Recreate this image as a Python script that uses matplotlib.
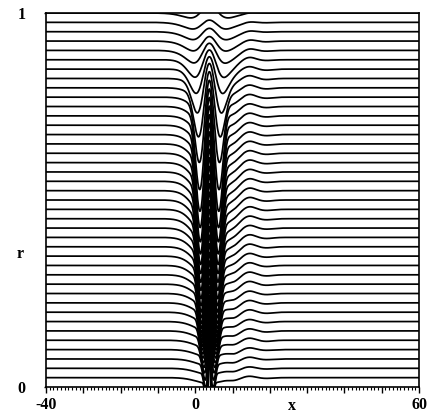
import numpy as np
import matplotlib
matplotlib.use("Agg")
import matplotlib.pyplot as plt

# ---- data ----
r_levels = [1.000, 0.975, 0.950, 0.925, 0.900, 0.875, 0.850, 0.825, 0.800, 0.775,
            0.750, 0.725, 0.700, 0.675, 0.650, 0.625, 0.600, 0.575, 0.550, 0.525,
            0.500, 0.475, 0.450, 0.425, 0.400, 0.375, 0.350, 0.325, 0.300, 0.275,
            0.250, 0.225, 0.200, 0.175, 0.150, 0.125, 0.100, 0.075, 0.050, 0.025]
# crest height above each level
tip_height = [0.020, 0.006, 0.009, 0.012, 0.019, 0.026, 0.033, 0.040, 0.043, 0.045,
              0.047, 0.049, 0.051, 0.053, 0.055, 0.057, 0.059, 0.061, 0.063, 0.065,
              0.067, 0.069, 0.071, 0.073, 0.075, 0.077, 0.079, 0.081, 0.083, 0.085,
              0.087, 0.089, 0.091, 0.093, 0.095, 0.097, 0.099, 0.101, 0.103, 0.105]
crest_width = [3.5, 3.5, 3.45, 3.4, 3.2, 2.95, 2.7, 2.4, 2.1, 1.9,
               1.75, 1.65, 1.6, 1.56, 1.53, 1.5, 1.48, 1.46, 1.44, 1.42,
               1.4, 1.38, 1.36, 1.33, 1.3, 1.27, 1.23, 1.19, 1.14, 1.08,
               1.02, 0.95, 0.88, 0.8, 0.72, 0.64, 0.55, 0.46, 0.38, 0.3]
# broad trough (long shallow approach)
broad_depth = [0.004, 0.004, 0.006, 0.009, 0.013, 0.019, 0.027, 0.037, 0.047, 0.056,
               0.062, 0.068, 0.073, 0.077, 0.080, 0.083, 0.085, 0.087, 0.088, 0.088,
               0.087, 0.085, 0.082, 0.078, 0.073, 0.068, 0.062, 0.056, 0.050, 0.044,
               0.039, 0.035, 0.031, 0.028, 0.025, 0.022, 0.020, 0.018, 0.016, 0.015]
broad_width = [5.0, 5.0, 5.0, 5.0, 5.0, 5.0, 5.0, 5.0, 5.0, 5.0,
               5.0, 5.0, 5.0, 5.0, 5.0, 5.0, 5.0, 5.0, 5.0, 5.0,
               5.0, 5.0, 5.0, 5.0, 5.0, 5.0, 5.0, 5.0, 5.0, 5.0,
               5.0, 5.0, 5.0, 5.0, 5.0, 5.0, 5.0, 5.0, 5.0, 5.0]
# deep, steep-walled core of the trough
core_depth = [0.030, 0.035, 0.042, 0.052, 0.065, 0.080, 0.100, 0.125, 0.160, 0.200,
              0.240, 0.265, 0.280, 0.290, 0.295, 0.295, 0.292, 0.288, 0.283, 0.277,
              0.270, 0.262, 0.253, 0.243, 0.232, 0.220, 0.205, 0.190, 0.172, 0.155,
              0.138, 0.122, 0.108, 0.095, 0.085, 0.077, 0.072, 0.068, 0.064, 0.060]
core_width = [6.5, 6.5, 6.3, 6.1, 5.8, 5.5, 5.1, 4.7, 4.3, 4.0,
              3.9, 3.85, 3.8, 3.75, 3.7, 3.65, 3.6, 3.55, 3.5, 3.5,
              3.45, 3.4, 3.35, 3.3, 3.25, 3.2, 3.15, 3.1, 3.05, 3.0,
              3.0, 2.95, 2.85, 2.7, 2.5, 2.3, 2.0, 1.8, 1.55, 1.3]
core_power = [2.0, 2.0, 2.0, 2.0, 2.0, 2.4, 2.8, 3.3, 3.8, 4.3,
              4.8, 5.0, 5.0, 5.0, 5.0, 5.0, 5.0, 5.0, 5.0, 5.0,
              5.0, 5.0, 5.0, 5.0, 5.0, 5.0, 5.0, 5.0, 5.0, 5.0,
              5.0, 5.0, 5.0, 5.0, 4.5, 4.0, 4.0, 4.0, 4.0, 4.0]
# trailing ripples on the right
tail_dip = [0.000, 0.000, 0.001, 0.002, 0.003, 0.004, 0.005, 0.006, 0.007, 0.008,
            0.009, 0.010, 0.010, 0.010, 0.010, 0.010, 0.010, 0.010, 0.010, 0.010,
            0.010, 0.010, 0.010, 0.010, 0.010, 0.010, 0.010, 0.010, 0.010, 0.010,
            0.010, 0.010, 0.010, 0.009, 0.009, 0.008, 0.008, 0.007, 0.006, 0.005]
tail_bump = [0.002, 0.003, 0.004, 0.005, 0.006, 0.007, 0.007, 0.008, 0.008, 0.008,
             0.008, 0.008, 0.008, 0.008, 0.008, 0.008, 0.008, 0.008, 0.008, 0.008,
             0.008, 0.008, 0.008, 0.008, 0.008, 0.008, 0.008, 0.008, 0.008, 0.008,
             0.007, 0.007, 0.007, 0.006, 0.006, 0.006, 0.005, 0.005, 0.004, 0.004]
tail_ripple = [0.000, 0.001, 0.001, 0.002, 0.002, 0.002, 0.003, 0.003, 0.003, 0.003,
               0.003, 0.003, 0.003, 0.003, 0.003, 0.003, 0.003, 0.003, 0.003, 0.003,
               0.003, 0.003, 0.003, 0.003, 0.003, 0.003, 0.003, 0.003, 0.003, 0.003,
               0.003, 0.003, 0.003, 0.003, 0.003, 0.003, 0.002, 0.002, 0.002, 0.002]
crest_x = 3.8
tail_dip_x, tail_bump_x, tail_ripple_x = 10.5, 14.5, 19.0

x_major = [-40, -30, -20, -10, 0, 10, 20, 30, 40, 50, 60]
x_labels = ["-40", "", "", "", "0", "", "", "", "", "", "60"]
y_ticks = [0, 1]
y_labels = ["0", "1"]

# ---- figure ----
W, H = 431, 417
fig = plt.figure(figsize=(W / 100, H / 100), dpi=100)
ax = fig.add_axes([46 / W, 1 - 387 / H, 373 / W, 374 / H])

x = np.linspace(-40, 60, 12001)
dx = x - crest_x
for k, r in enumerate(r_levels):
    trough = (broad_depth[k] * np.exp(-(dx / broad_width[k]) ** 2)
              + core_depth[k] * np.exp(-np.abs(dx / core_width[k]) ** core_power[k]))
    G = np.exp(-(dx / crest_width[k]) ** 2)
    eta = (-trough * (1 - G) + tip_height[k] * G
           - tail_dip[k] * np.exp(-((x - tail_dip_x) / 2.0) ** 2)
           + tail_bump[k] * np.exp(-((x - tail_bump_x) / 2.2) ** 2)
           - tail_ripple[k] * np.exp(-((x - tail_ripple_x) / 2.5) ** 2))
    ax.plot(x, r + eta, color="black", lw=1.25, solid_capstyle="butt")

ax.set_xlim(-40, 60)
ax.set_ylim(0, 1)
for s in ax.spines.values():
    s.set_linewidth(1.2)

font = dict(family="Liberation Serif", weight="bold", size=11.5)
ax.set_xticks(x_major)
ax.set_xticklabels(x_labels, fontdict=font)
ax.set_xticks(np.arange(-40, 61, 1), minor=True)
ax.tick_params(axis="x", which="major", direction="out", length=4.5, width=1.0, pad=3)
ax.tick_params(axis="x", which="minor", direction="out", length=2.2, width=0.8)
ax.set_yticks(y_ticks)
ax.set_yticklabels(y_labels, fontdict=font)
ax.tick_params(axis="y", which="major", direction="out", length=1.5, width=1.0, pad=13)
ax.tick_params(top=False, right=False)

fig.text(20 / W, 1 - 254 / H, "r", ha="center", va="center", **font)
fig.text(292 / W, 1 - 406 / H, "x", ha="center", va="center", **font)

fig.savefig("out.png", dpi=100)
